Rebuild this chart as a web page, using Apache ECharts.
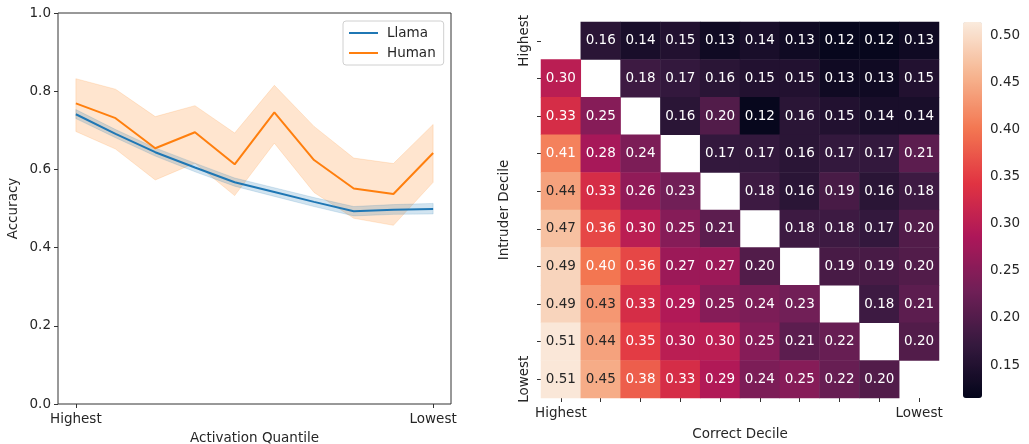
<!DOCTYPE html>
<html><head>
<meta charset="UTF-8">
<title>Accuracy / Intruder heatmap</title>
<script src="https://cdn.jsdelivr.net/npm/echarts@6/dist/echarts.min.js"></script>
<style>
  html, body { margin: 0; padding: 0; background: #fff; }
  #main { width: 1029px; height: 444px; }
</style>
</head>
<body>
<div id="main"></div>
<script>
// ---- data ----
var quantiles = [0, 1, 2, 3, 4, 5, 6, 7, 8, 9];
var quantileTicks = ['Highest', 'Lowest'];

var llamaMean = [0.741, 0.691, 0.644, 0.605, 0.567, 0.542, 0.517, 0.493, 0.497, 0.499];
var llamaLow  = [0.730, 0.681, 0.634, 0.594, 0.557, 0.531, 0.505, 0.481, 0.485, 0.486];
var llamaHigh = [0.753, 0.702, 0.655, 0.616, 0.578, 0.553, 0.528, 0.505, 0.510, 0.513];

var humanMean = [0.769, 0.731, 0.654, 0.695, 0.613, 0.746, 0.624, 0.551, 0.537, 0.642];
var humanLow  = [0.697, 0.652, 0.573, 0.616, 0.533, 0.667, 0.541, 0.475, 0.457, 0.567];
var humanHigh = [0.832, 0.805, 0.735, 0.763, 0.693, 0.815, 0.710, 0.629, 0.615, 0.715];

var deciles = ['Highest', '', '', '', '', '', '', '', '', 'Lowest'];
// rows = intruder decile (Highest first), cols = correct decile; null = diagonal
var heat = [
  [null, 0.16, 0.14, 0.15, 0.13, 0.14, 0.13, 0.12, 0.12, 0.13],
  [0.30, null, 0.18, 0.17, 0.16, 0.15, 0.15, 0.13, 0.13, 0.15],
  [0.33, 0.25, null, 0.16, 0.20, 0.12, 0.16, 0.15, 0.14, 0.14],
  [0.41, 0.28, 0.24, null, 0.17, 0.17, 0.16, 0.17, 0.17, 0.21],
  [0.44, 0.33, 0.26, 0.23, null, 0.18, 0.16, 0.19, 0.16, 0.18],
  [0.47, 0.36, 0.30, 0.25, 0.21, null, 0.18, 0.18, 0.17, 0.20],
  [0.49, 0.40, 0.36, 0.27, 0.27, 0.20, null, 0.19, 0.19, 0.20],
  [0.49, 0.43, 0.33, 0.29, 0.25, 0.24, 0.23, null, 0.18, 0.21],
  [0.51, 0.44, 0.35, 0.30, 0.30, 0.25, 0.21, 0.22, null, 0.20],
  [0.51, 0.45, 0.38, 0.33, 0.29, 0.24, 0.25, 0.22, 0.20, null]
];
var cbarMin = 0.115, cbarMax = 0.514;
var cbarTicks = [0.15, 0.20, 0.25, 0.30, 0.35, 0.40, 0.45, 0.50];

// rocket colormap stops
var rocket = ['#03051a', '#35193e', '#701f57', '#ad1759', '#e13342', '#f37651', '#f6b48f', '#faebdd'];

var FONT = 'DejaVu Sans';
var TXT = '#262626';

function pairs(ys) {
  return quantiles.map(function (x, i) { return [x, ys[i]]; });
}

// band polygon via axis coords
function band(low, high, fill, stroke) {
  return function (params, api) {
    if (params.dataIndex !== 0) return;
    var pts = [];
    for (var i = 0; i < quantiles.length; i++) pts.push(api.coord([quantiles[i], high[i]]));
    for (var j = quantiles.length - 1; j >= 0; j--) pts.push(api.coord([quantiles[j], low[j]]));
    return { type: 'polygon', shape: { points: pts }, style: { fill: fill, stroke: stroke, lineWidth: 0.8 } };
  };
}

var heatData = [];
heat.forEach(function (row, r) {
  row.forEach(function (v, c) {
    if (v === null) return;
    heatData.push({ value: [c, r, v], label: { color: v >= 0.42 ? TXT : '#ffffff' } });
  });
});

var chart = echarts.init(document.getElementById('main'));
var option = {
  backgroundColor: '#fff',
  animation: false,
  textStyle: { fontFamily: FONT },
  grid: [
    { left: 58, top: 13, width: 393, height: 391, outerBoundsMode: 'none', containLabel: false,
      show: true, borderColor: '#333', borderWidth: 1, backgroundColor: 'transparent' },
    { left: 541, top: 22, width: 398, height: 376, outerBoundsMode: 'none', containLabel: false },
    { left: 963, top: 22, width: 19, height: 376, outerBoundsMode: 'none', containLabel: false }
  ],
  legend: {
    left: 343, top: 21, orient: 'vertical',
    padding: [5, 8, 5, 6], itemGap: 6,
    itemWidth: 29, itemHeight: 2, icon: 'rect',
    borderColor: '#d0d0d0', borderWidth: 1, borderRadius: 3,
    backgroundColor: 'rgba(255,255,255,0.8)',
    textStyle: { fontSize: 13.5, color: TXT, fontFamily: FONT, padding: [0, 0, 0, 4] },
    data: ['Llama', 'Human']
  },
  xAxis: [
    {
      gridIndex: 0, type: 'value', min: -0.45, max: 9.45,
      name: 'Activation Quantile', nameLocation: 'middle', nameGap: 27,
      nameTextStyle: { fontSize: 13.5, color: TXT },
      axisLine: { show: false, onZero: false },
      splitLine: { show: false },
      axisTick: { show: true, length: 4, lineStyle: { color: '#333' }, customValues: [0, 9] },
      axisLabel: { fontSize: 13.5, color: TXT, margin: 8, customValues: [0, 9],
        formatter: function (v) { return v === 0 ? quantileTicks[0] : quantileTicks[1]; } }
    },
    {
      gridIndex: 1, type: 'category', data: deciles,
      name: 'Correct Decile', nameLocation: 'middle', nameGap: 29,
      nameTextStyle: { fontSize: 13.5, color: TXT },
      axisLine: { show: false },
      axisTick: { show: true, alignWithLabel: true, interval: 0, length: 4, lineStyle: { color: '#333' } },
      axisLabel: { interval: 0, fontSize: 13.5, color: TXT, margin: 8 },
      splitArea: { show: false }
    },
    { gridIndex: 2, type: 'value', show: false, min: 0, max: 1 }
  ],
  yAxis: [
    {
      gridIndex: 0, type: 'value', min: 0, max: 1, interval: 0.2,
      name: 'Accuracy', nameLocation: 'middle', nameGap: 38,
      nameTextStyle: { fontSize: 13.5, color: TXT },
      axisLine: { show: false, onZero: false },
      splitLine: { show: false },
      axisTick: { show: true, length: 4, lineStyle: { color: '#333' } },
      axisLabel: { fontSize: 13.5, color: TXT, margin: 7, formatter: function (v) { return v.toFixed(1); } }
    },
    {
      gridIndex: 1, type: 'category', data: deciles, inverse: true,
      name: 'Intruder Decile', nameLocation: 'middle', nameGap: 30,
      nameTextStyle: { fontSize: 13.5, color: TXT },
      axisLine: { show: false },
      axisTick: { show: true, alignWithLabel: true, interval: 0, length: 4, lineStyle: { color: '#333' } },
      axisLabel: { interval: 0, rotate: 90, fontSize: 13.5, color: TXT, margin: 10 },
      splitArea: { show: false }
    },
    {
      gridIndex: 2, type: 'value', position: 'right', min: cbarMin, max: cbarMax,
      axisLine: { show: false },
      splitLine: { show: false },
      axisTick: { show: true, length: 4, lineStyle: { color: '#333' }, customValues: cbarTicks },
      axisLabel: { fontSize: 13.5, color: TXT, margin: 8, customValues: cbarTicks,
        formatter: function (v) { return v.toFixed(2); } }
    }
  ],
  visualMap: {
    type: 'continuous', seriesIndex: 4,
    min: cbarMin, max: cbarMax,
    left: 963, top: 22, itemWidth: 19, itemHeight: 376,
    padding: 0, calculable: false, showLabel: false, text: null, hoverLink: false,
    inRange: { color: rocket }
  },
  series: [
    {
      type: 'custom', name: 'humanBand', xAxisIndex: 0, yAxisIndex: 0,
      data: [[0, 0]], renderItem: band(humanLow, humanHigh, 'rgba(255,127,14,0.2)', 'rgba(255,127,14,0.2)'),
      silent: true, z: 1
    },
    {
      type: 'custom', name: 'llamaBand', xAxisIndex: 0, yAxisIndex: 0,
      data: [[0, 0]], renderItem: band(llamaLow, llamaHigh, 'rgba(31,119,180,0.2)', 'rgba(31,119,180,0.2)'),
      silent: true, z: 2
    },
    {
      type: 'line', name: 'Llama', xAxisIndex: 0, yAxisIndex: 0,
      data: pairs(llamaMean), symbol: 'none', color: '#1f77b4',
      lineStyle: { width: 2, color: '#1f77b4' }, z: 3
    },
    {
      type: 'line', name: 'Human', xAxisIndex: 0, yAxisIndex: 0,
      data: pairs(humanMean), symbol: 'none', color: '#ff7f0e',
      lineStyle: { width: 2, color: '#ff7f0e' }, z: 4
    },
    {
      type: 'heatmap', xAxisIndex: 1, yAxisIndex: 1,
      data: heatData,
      label: { show: true, fontSize: 13.5, fontFamily: FONT,
        formatter: function (p) { return p.value[2].toFixed(2); } },
      itemStyle: { borderWidth: 0 },
      emphasis: { disabled: true }
    }
  ]
};
chart.setOption(option);
</script>
</body></html>
